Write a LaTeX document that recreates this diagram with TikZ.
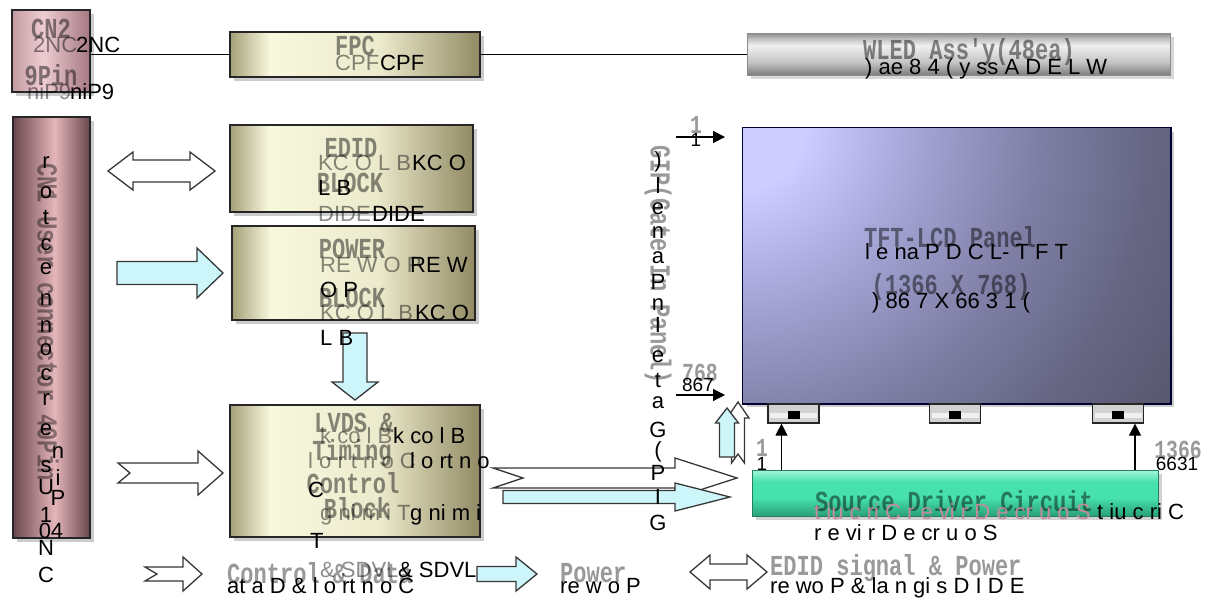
\documentclass[tikz,border=0pt]{standalone}
\usepackage{fontspec}
\setmainfont{Liberation Sans}
\newfontfamily\pixfont[FakeStretch=0.76]{Liberation Mono}
\usetikzlibrary{shadows,arrows.meta}

\definecolor{ydark}{RGB}{165,160,120}
\definecolor{ylight}{RGB}{248,248,222}
\definecolor{ymid}{RGB}{236,234,204}
\definecolor{ydarkb}{RGB}{145,138,100}
\definecolor{cna}{RGB}{195,155,162}
\definecolor{cnb}{RGB}{238,205,210}
\definecolor{cnc}{RGB}{165,120,130}
\definecolor{bre}{RGB}{105,70,76}
\definecolor{brc}{RGB}{228,182,186}
\definecolor{pl}{RGB}{205,205,255}
\definecolor{pm}{RGB}{168,168,218}
\definecolor{pn}{RGB}{130,130,170}
\definecolor{po}{RGB}{102,102,132}
\definecolor{pd}{RGB}{88,88,112}
\definecolor{ga}{RGB}{165,245,222}
\definecolor{gb}{RGB}{70,225,172}
\definecolor{gc}{RGB}{42,160,122}
\definecolor{wa}{RGB}{125,125,125}
\definecolor{wb}{RGB}{195,195,195}
\definecolor{wc}{RGB}{240,240,240}
\definecolor{wd}{RGB}{140,140,140}
\definecolor{cyanf}{RGB}{205,246,250}
\definecolor{aline}{RGB}{55,55,55}
\definecolor{pinkov}{RGB}{195,140,152}

\pgfdeclarehorizontalshading{yshade}{100bp}{color(0bp)=(ydark); color(25bp)=(ydark); color(33bp)=(ylight); color(55bp)=(ymid); color(75bp)=(ydarkb); color(100bp)=(ydarkb)}
\pgfdeclarehorizontalshading{cn2shade}{100bp}{color(0bp)=(cna); color(25bp)=(cna); color(45bp)=(cnb); color(75bp)=(cnc); color(100bp)=(cnc)}
\pgfdeclarehorizontalshading{cn1shade}{100bp}{color(0bp)=(bre); color(25bp)=(bre); color(52bp)=(brc); color(75bp)=(bre); color(100bp)=(bre)}
\pgfdeclareverticalshading{gshade}{100bp}{color(0bp)=(gc); color(25bp)=(gc); color(45bp)=(gb); color(62bp)=(gb); color(75bp)=(ga); color(100bp)=(ga)}
\pgfdeclareverticalshading{wshade}{100bp}{color(0bp)=(wa); color(25bp)=(wa); color(40bp)=(wb); color(60bp)=(wc); color(68bp)=(wb); color(75bp)=(wd); color(100bp)=(wd)}
\pgfdeclareradialshading{pshade}{\pgfpoint{0bp}{0bp}}{color(0bp)=(pl); color(3bp)=(pl); color(8bp)=(pm); color(14bp)=(pn); color(20bp)=(po); color(25bp)=(pd); color(50bp)=(pd)}

\newcommand\myharrow[8]{\draw[#1] (#2,{#5-#6}) -- (#4,{#5-#6}) -- (#4,{#5-#7}) -- (#3,#5) -- (#4,{#5+#7}) -- (#4,{#5+#6}) -- (#2,{#5+#6}) -- (#8,#5) -- cycle;}
\newcommand\mydarrow[7]{\draw[#1] (#2,#4) -- ({#2+#7},{#4-#6}) -- ({#2+#7},{#4-#5}) -- ({#3-#7},{#4-#5}) -- ({#3-#7},{#4-#6}) -- (#3,#4) -- ({#3-#7},{#4+#6}) -- ({#3-#7},{#4+#5}) -- ({#2+#7},{#4+#5}) -- ({#2+#7},{#4+#6}) -- cycle;}
\newcommand\myvarrow[8]{\draw[#1] ({#2-#6},#3) -- ({#2-#6},#5) -- ({#2-#7},#5) -- (#2,#4) -- ({#2+#7},#5) -- ({#2+#6},#5) -- ({#2+#6},#3) -- (#2,#8) -- cycle;}

\tikzset{
  box/.style={draw=black!85, line width=1.2pt, inner sep=0pt, drop shadow={opacity=0.4, shadow xshift=4pt, shadow yshift=-4pt}},
  ybox/.style={box, shading=yshade},
  lbl/.style={font=\pixfont\bfseries\fontsize{29}{29}\selectfont, text=black, text opacity=0.45, inner sep=0pt},
  lbls/.style={font=\pixfont\bfseries\fontsize{26}{26}\selectfont, text=black, text opacity=0.4, inner sep=0pt},
  ovb/.style={font=\fontsize{22}{22}\selectfont, text=black, inner sep=0pt, anchor=base west},
  ovg/.style={ovb, text opacity=0.45},
  ovn/.style={font=\fontsize{19}{19}\selectfont, text=black, inner sep=0pt},
  hol/.style={draw=aline, line width=1.3pt, fill=white, line join=miter},
  cya/.style={draw=aline, line width=1.3pt, fill=cyanf, line join=miter},
  tri/.style={black, line width=1.2pt, -{Triangle[length=12pt,width=12pt]}},
  conn/.style={draw=black!85, line width=1.2pt, fill=gray!35, minimum width=51, minimum height=19, inner sep=0pt},
}

\begin{document}
\begin{tikzpicture}[x=1pt,y=-1pt]
\fill[white] (0,0) rectangle (1210,598);
\useasboundingbox (0,0) rectangle (1210,598);

% ---------- boxes ----------
\node[box, shading=cn2shade, minimum width=78, minimum height=82] (cn2) at (51,51) {};
\node[ybox, minimum width=250, minimum height=45] (fpc) at (355,54.5) {};
\node[draw=black!45, line width=0.8pt, shading=wshade, minimum width=423, minimum height=42, inner sep=0pt, drop shadow={opacity=0.3, shadow xshift=4pt, shadow yshift=-4pt}] (wled) at (958.5,54) {};
\node[box, shading=cn1shade, minimum width=77, minimum height=421] (cn1) at (51.5,327.5) {};
\node[ybox, minimum width=243, minimum height=87] (edid) at (351.5,168.5) {};
\node[ybox, minimum width=243, minimum height=94] (power) at (353.5,273) {};
\node[ybox, minimum width=250, minimum height=132] (lvds) at (355,471) {};
\node[box, line width=1.5pt, fill=pd, minimum width=427, minimum height=275] (panel) at (956.5,265.5) {};
\begin{scope}
  \clip (panel.north west) rectangle (panel.south east);
  \shade[shading=pshade] (panel.north west) circle (508);
\end{scope}
\draw[line width=1.5pt, black!80!blue] (panel.north west) rectangle (panel.south east);
\node[draw=gc!80!black, line width=0.6pt, shading=gshade, minimum width=406, minimum height=46, inner sep=0pt, drop shadow={opacity=0.35, shadow xshift=4pt, shadow yshift=-4pt}] (src) at (955,493) {};

% connectors under the panel
\foreach \n/\xx in {1/793.5, 2/955, 3/1118} {
  \node[conn] (conn\n) at (\xx,413.5) {};
  \node[fill=gray!12, minimum width=47, minimum height=5, inner sep=0pt] (connb\n) at (\xx,415) {};
  \node[fill=black, minimum width=12, minimum height=8, inner sep=0pt] (connc\n) at (\xx,415) {};
}

% ---------- lines ----------
\draw[black, line width=1.1pt] (cn2.east |- fpc.west) -- (fpc.west);
\draw[black, line width=1.1pt] (fpc.east) -- (fpc.east -| wled.west);

\coordinate (t1) at ([xshift=-12pt]conn1.south);
\coordinate (t3) at ([xshift=17pt]conn3.south);
\draw[tri] (t1 |- src.north) -- (t1);
\draw[tri] (t3 |- src.north) -- (t3);

\coordinate (r1s) at (676,137);
\coordinate (r1e) at (725,137);
\coordinate (r2s) at (676,395);
\coordinate (r2e) at (725,395);
\draw[tri] (r1s) -- (r1e);
\draw[tri] (r2s) -- (r2e);

% ---------- block arrows ----------
\mydarrow{hol}{108}{215}{171}{11}{19}{25}
\myharrow{cya}{117}{223}{197}{273}{11.5}{25}{117}
\myharrow{hol}{118}{223}{198}{473}{10}{22}{130}
\myvarrow{cya}{355}{333}{400}{382}{12}{23}{333}
\myharrow{hol}{493}{737}{675}{478}{10}{20}{523}
\myharrow{cya}{503}{730}{675}{497}{6.5}{14}{503}
\myvarrow{hol}{738}{463}{402}{418}{6.5}{11}{454}
\myvarrow{cya}{727}{457}{408}{423}{7.5}{11.5}{457}
% legend arrows
\myharrow{hol}{145}{202}{183}{574}{7}{17}{157}
\myharrow{cya}{477}{537}{516}{574}{7.5}{17}{477}
\mydarrow{hol}{690}{767}{572}{8}{17}{20}

% ---------- original labels ----------
\node[lbl] (l-cn2a) at (51,29) {CN2};
\node[lbl] (l-cn2b) at (51,75) {9Pin};
\node[lbl] (l-fpc) at (355,46) {FPC};
\node[lbl] (l-wled) at (969,52) {WLED Ass'y(48ea)};
\node[lbl, rotate=-90, text opacity=0.4] (l-cn1) at (48,322) {CN1 User connector 40Pin};
\node[lbl] (l-edid1) at (351,148) {EDID};
\node[lbl] (l-edid2) at (350,183) {BLOCK};
\node[lbl] (l-pow1) at (352,249) {POWER};
\node[lbl] (l-pow2) at (352,298) {BLOCK};
\node[lbl] (l-lv1) at (354,423) {LVDS \&};
\node[lbl] (l-lv2) at (352,453) {Timing};
\node[lbl] (l-lv3) at (353,483) {Control};
\node[lbl] (l-lv4) at (357,508) {Block};
\node[lbl, rotate=-90, text opacity=0.4] (l-gip) at (658,265) {GIP(Gate In Panel)};
\node[lbl] (l-pan1) at (950,237) {TFT-LCD Panel};
\node[lbl] (l-pan2) at (951,287) {(1366 X 768)};
\node[lbl] (l-src) at (954,501) {Source Driver Circuit};
\node[lbls] (l-n1) at (696,125) {1};
\node[lbls] (l-n768) at (700,373) {768};
\node[lbls] (l-n1b) at (762,448) {1};
\node[lbls] (l-n1366) at (1178,450) {1366};
\node[lbl, anchor=west, text opacity=0.4] (l-leg1) at (227,573) {Control \& Data};
\node[lbl, anchor=west, text opacity=0.4] (l-leg2) at (560,573) {Power};
\node[lbl, anchor=west, text opacity=0.4] (l-leg3) at (770,568) {EDID signal \& Power};

% ---------- overlay texts ----------
\node[ovg] (o1) at (33,52) {2NC};
\node[ovb] (o2) at (76,52) {2NC};
\node[ovg] (o3) at (27,99) {niP9};
\node[ovb] (o4) at (70,99) {niP9};
\node[ovg] (o5) at (335,70) {CPF};
\node[ovb] (o6) at (380,70) {CPF};
\node[ovb] (o7) at (865,74) {) ae 8 4 ( y ss A D E L W};

\node[ovg] (o8) at (318,170) {KC O L B};
\node[ovb] (o9) at (412,170) {KC O};
\node[ovb] (o10) at (318,195) {L B};
\node[ovg] (o11) at (318,221) {DIDE};
\node[ovb] (o12) at (372,221) {DIDE};

\node[ovg] (o13) at (320,272) {RE W O P};
\node[ovb] (o14) at (410,272) {RE W};
\node[ovb] (o15) at (320,297) {O P};
\node[ovg] (o16) at (320,320) {KC O L B};
\node[ovb] (o17) at (415,320) {KC O};
\node[ovb] (o18) at (320,345) {L B};

\node[ovg] (o19) at (320,443) {k co l B};
\node[ovb] (o20) at (393,443) {k co l B};
\node[ovg] (o21) at (308,468) {l o r t n o C};
\node[ovb] (o22) at (410,468) {l o rt n o};
\node[ovb] (o23) at (308,497) {C};
\node[ovg] (o24) at (320,520) {g ni m i T};
\node[ovb] (o25) at (410,520) {g ni m i};
\node[ovb] (o26) at (310,548) {T};
\node[ovg] (o27) at (320,577) {\& SDVL};
\node[ovb] (o28) at (398,577) {\& SDVL};

\node[ovb] (o29) at (865,259) {l e na P D C L- T F T};
\node[ovb] (o30) at (872,308) {) 86 7 X 66 3 1 (};

\node[ovb, text=pinkov] (o31) at (814,519) {t iu c ri C r e vi r D e cr u o S};
\node[ovb] (o32) at (1097,519) {t iu c ri C};
\node[ovb] (o33) at (814,540) {r e vi r D e cr u o S};

\node[ovn] (o34) at (696,140) {1};
\node[ovn] (o35) at (698,385) {867};
\node[ovn] (o36) at (762,464) {1};
\node[ovn] (o37) at (1177,464) {6631};

\node[ovb] (o38) at (227,593) {at a D \& l o rt n o C};
\node[ovb] (o39) at (560,593) {re w o P};
\node[ovb] (o40) at (770,593) {re wo P \& la n gi s D I D E};

% stacked characters
\foreach \ch/\yy [count=\i] in {r/163, o/193, t/217, c/245, e/269, n/300, n/327, o/350, c/375, r/400, e/430, s/467, U/487, 1/515, N/548, C/575}
  \node[ovb, anchor=center] (cs\i) at (46,\yy) {\ch};
\foreach \ch/\yy [count=\i] in {n/453, i/478, P/498}
  \node[ovb, anchor=center] (ct\i) at (58,\yy) {\ch};
\node[ovb, anchor=center] (cu) at (51,531) {04};
\foreach \ch/\yy [count=\i] in {{)}/162, l/186, e/209, n/233, a/258, P/282, n/305, I/325, e/357, t/380, a/403, G/430, {(}/452, P/473, I/497, G/523}
  \node[ovb, anchor=center] (gs\i) at (658,\yy) {\ch};
\end{tikzpicture}
\end{document}
